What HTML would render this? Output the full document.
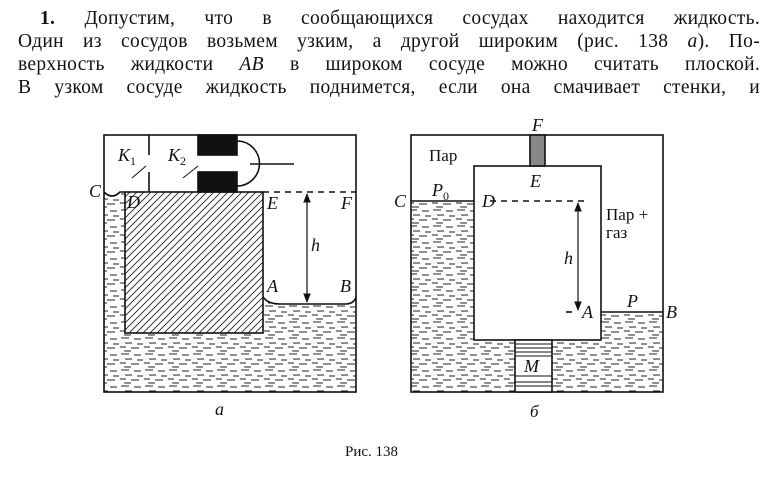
<!DOCTYPE html>
<html><head><meta charset="utf-8"><style>
body{margin:0;width:780px;height:478px;background:#fff;overflow:hidden;position:relative;font-family:"Liberation Serif",serif;}
.l{position:absolute;left:18px;width:742px;font-size:19.5px;letter-spacing:0.3px;line-height:22px;text-align:justify;text-align-last:justify;white-space:nowrap;color:#111}
svg{position:absolute;left:0;top:0}
</style></head><body>
<div class="l" style="top:8px;left:40px;width:720px"><b>1.</b> Допустим, что в сообщающихся сосудах находится жидкость.</div>
<div class="l" style="top:31px">Один из сосудов возьмем узким, а другой широким (рис. 138 <i>а</i>). По-</div>
<div class="l" style="top:54px">верхность жидкости <i>AB</i> в широком сосуде можно считать плоской.</div>
<div class="l" style="top:77px">В узком сосуде жидкость поднимется, если она смачивает стенки, и</div>
<svg width="780" height="478" viewBox="0 0 780 478" font-family="Liberation Serif, serif">
<defs>
<pattern id="liq" width="24" height="16" patternUnits="userSpaceOnUse">
<path d="M1 2h8M14 3h7M5 7h7M17 8h6M0 11h6M11 12h8M4 15h7" stroke="#222" stroke-width="1.1"/>
</pattern>
<pattern id="hat" width="7" height="7" patternUnits="userSpaceOnUse">
<path d="M0 7L7 0M-1 1L1 -1M6 8L8 6" stroke="#222" stroke-width="0.9"/>
</pattern>
<marker id="ar" viewBox="0 0 10 10" refX="9" refY="5" markerWidth="8" markerHeight="8" orient="auto-start-reverse"><path d="M0 1L10 5L0 9z" fill="#111"/></marker>
</defs>
<g stroke="#111" fill="none" stroke-width="1.6">
<path d="M104 192 Q112 200 120 192 L125 192 L125 333 L263 333 L263 297 Q268 304 280 304 L345 304 Q354 304 356 297 L356 392 L104 392 Z" fill="url(#liq)" stroke="none"/>
<rect x="104" y="135" width="252" height="257"/>
<rect x="125" y="192" width="138" height="141" fill="url(#hat)"/>
<path d="M104 192 Q112 200 120 192 L125 192"/>
<path d="M263 297 Q268 304 280 304 L345 304 Q354 304 356 297"/>
<path d="M149 135V155M149 172V192"/>
<rect x="198" y="135" width="39" height="20" fill="#111"/>
<rect x="198" y="172" width="39" height="20" fill="#111"/>
<path d="M237 141 A13 13 0 0 1 237 186"/>
<path d="M250 164H294"/>
<path d="M263 192H356" stroke-dasharray="6 5"/>
<path d="M307 194V302" stroke-width="1.2" marker-start="url(#ar)" marker-end="url(#ar)"/>
<path d="M132 178L146 166M183 178L198 166" stroke-width="1"/>
<rect x="411" y="201" width="63" height="191" fill="url(#liq)" stroke="none"/>
<rect x="601" y="312" width="62" height="80" fill="url(#liq)" stroke="none"/>
<rect x="474" y="340" width="127" height="52" fill="url(#liq)" stroke="none"/>
<rect x="411" y="135" width="252" height="257"/>
<rect x="474" y="166" width="127" height="174" fill="#fff"/>
<rect x="530" y="135" width="15" height="31" fill="#888"/>
<path d="M411 201H474M601 312H663"/>
<rect x="515" y="340" width="37" height="52" fill="#fff"/>
<path d="M515 344H552M515 348H552M515 352H552M515 356H552M515 376H552M515 382H552M515 386H552" stroke-width="1"/>
<path d="M490 201H585" stroke-dasharray="6 5"/>
<path d="M566 312H572"/>
<path d="M578 203V310" stroke-width="1.2" marker-start="url(#ar)" marker-end="url(#ar)"/>
</g>
<g fill="#111" font-size="18" font-style="italic">
<text x="118" y="161">K<tspan font-size="12" dy="4" font-style="normal">1</tspan></text>
<text x="168" y="161">K<tspan font-size="12" dy="4" font-style="normal">2</tspan></text>
<text x="89" y="197">C</text>
<text x="127" y="208">D</text>
<text x="267" y="209">E</text>
<text x="341" y="209">F</text>
<text x="311" y="251">h</text>
<text x="267" y="292">A</text>
<text x="340" y="292">B</text>
<text x="215" y="415">a</text>
<text x="532" y="131">F</text>
<text x="530" y="187">E</text>
<text x="394" y="207">C</text>
<text x="432" y="196">P<tspan font-size="12" dy="4" font-style="normal">0</tspan></text>
<text x="482" y="207">D</text>
<text x="564" y="264">h</text>
<text x="582" y="318">A</text>
<text x="627" y="307">P</text>
<text x="666" y="318">B</text>
<text x="524" y="372">M</text>
</g>
<g fill="#111" font-size="17">
<text x="429" y="161">Пар</text>
<text x="606" y="220">Пар +</text>
<text x="606" y="238">газ</text>
<text x="530" y="417" font-style="italic">б</text>
<text x="345" y="456" font-size="15">Рис. 138</text>
</g>
</svg>
</body></html>
